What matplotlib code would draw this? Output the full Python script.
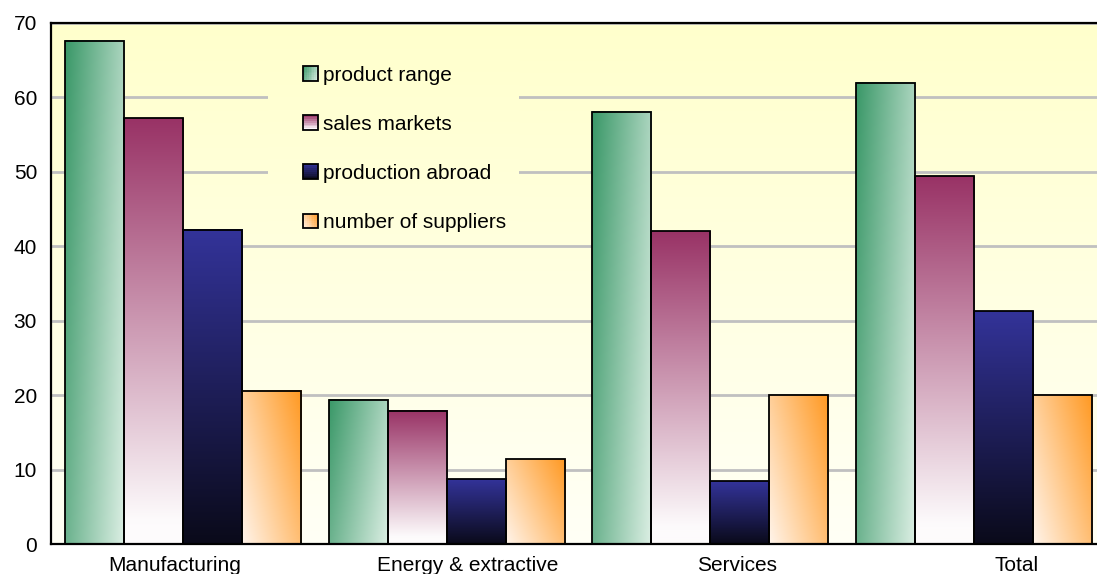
import numpy as np
import matplotlib
matplotlib.use('Agg')
import matplotlib.pyplot as plt
from matplotlib.patches import Rectangle
from matplotlib.legend_handler import HandlerBase

plt.rcParams['font.family'] = ['Liberation Sans', 'DejaVu Sans']

# data
categories = ['Manufacturing', 'Energy & extractive', 'Services', 'Total']
series = ['product range', 'sales markets', 'production abroad', 'number of suppliers']
product_range = [67.6, 19.4, 58.1, 62.0]
sales_markets = [57.2, 17.9, 42.0, 49.4]
production_abroad = [42.2, 8.7, 8.4, 31.3]
number_of_suppliers = [20.6, 11.4, 20.0, 20.0]
yticks = [0, 10, 20, 30, 40, 50, 60, 70]

# where the category labels sit relative to the group centre (Excel drift)
label_shift = [-0.03, 0.08, 0.10, 0.16]


def rgb(h):
  h = h.lstrip('#')
  return np.array([int(h[i:i+2], 16) for i in (0, 2, 4)]) / 255.0


def mix(c0, c1, t):
  t = np.clip(np.asarray(t, dtype=float), 0, 1)
  a = rgb(c0)
  b = rgb(c1)
  return a + (b - a) * t[..., None]


# gradient fills, u = left->right, v = bottom->top (both 0..1 inside a bar)
def fill_green(u, v):
  return mix('#3a9868', '#dcefe4', 0.7 * u + 0.3 * (1 - v))

def fill_maroon(u, v):
  return mix('#fdfbfc', '#993366', (v - 0.05) / 0.95)

def fill_blue(u, v):
  return mix('#0a0a1a', '#333399', v)

def fill_orange(u, v):
  return mix('#fff4ea', '#ff9922', 0.6 * u + 0.4 * v)

fills = [fill_green, fill_maroon, fill_blue, fill_orange]
values = [product_range, sales_markets, production_abroad, number_of_suppliers]


class GradHandler(HandlerBase):
  def __init__(self, fn):
    super().__init__()
    self.fn = fn

  def create_artists(self, legend, orig_handle, xdescent, ydescent,
                     width, height, fontsize, trans):
    n = 8
    arts = []
    for i in range(n):
      for j in range(n):
        c = self.fn(np.array((i + 0.5) / n), np.array((j + 0.5) / n))
        arts.append(Rectangle((-xdescent + i * width / n, -ydescent + j * height / n),
                              width / n * 1.05, height / n * 1.05,
                              facecolor=c, edgecolor='none', lw=0, transform=trans))
    arts.append(Rectangle((-xdescent, -ydescent), width, height, facecolor='none',
                          edgecolor='black', lw=1.3, transform=trans))
    return arts


fig = plt.figure(figsize=(10.97, 5.74), dpi=100)
ax = fig.add_axes([51 / 1097, 30 / 574, 1055 / 1097, 521 / 574])

# plot area background: pale yellow fading to white
yy = np.linspace(0, 1, 256)[:, None]
bg = mix('#fffff6', '#ffffcc', yy * np.ones((1, 2)))
ax.imshow(bg, extent=(0, 1, 0, 1), transform=ax.transAxes, origin='lower',
          aspect='auto', zorder=0.1, interpolation='bilinear')

# patch of background behind the legend that hides the gridlines
cover = Rectangle((0.2057, 0.577), 0.237, 0.371, transform=ax.transAxes,
                  facecolor='none', edgecolor='none')
ax.add_patch(cover)
im2 = ax.imshow(bg, extent=(0, 1, 0, 1), transform=ax.transAxes, origin='lower',
                aspect='auto', zorder=0.7, interpolation='bilinear')
im2.set_clip_path(cover)

x = np.arange(len(categories))
w = 0.2237
uu, vv = np.meshgrid(np.linspace(0, 1, 60), np.linspace(0, 1, 120))
proxies = []
for k, (vals, fn) in enumerate(zip(values, fills)):
  bars = ax.bar(x + (k - 1.5) * w, vals, w, facecolor='none', edgecolor='black',
                linewidth=1.3, zorder=3)
  img = fn(uu, vv)
  for b in bars:
    ax.imshow(img, extent=(b.get_x(), b.get_x() + b.get_width(), 0, b.get_height()),
              origin='lower', aspect='auto', zorder=2, interpolation='bilinear')
  proxies.append(Rectangle((0, 0), 1, 1))

ax.set_xlim(-0.5, 3.5)
ax.set_ylim(0, 70)
ax.set_yticks(yticks)
ax.set_xticks(x + np.array(label_shift))
ax.set_xticklabels(categories)
ax.tick_params(axis='both', length=0, labelsize=15)
ax.tick_params(axis='y', pad=10)
ax.tick_params(axis='x', pad=8.5)

ax.set_axisbelow(True)
ax.yaxis.grid(True, color='#c0c0c0', linewidth=2)
for s in ['left', 'bottom', 'top']:
  ax.spines[s].set_linewidth(1.6)
  ax.spines[s].set_zorder(4)
ax.spines['right'].set_visible(False)

leg = ax.legend(proxies, series,
                handler_map={p: GradHandler(fn) for p, fn in zip(proxies, fills)},
                loc='upper left', bbox_to_anchor=(0.2389, 0.918), frameon=False,
                borderpad=0, borderaxespad=0, fontsize=15, labelspacing=1.45,
                handlelength=0.72, handleheight=0.72, handletextpad=0.25)
leg.set_zorder(5)

fig.savefig('out.png', dpi=100)
